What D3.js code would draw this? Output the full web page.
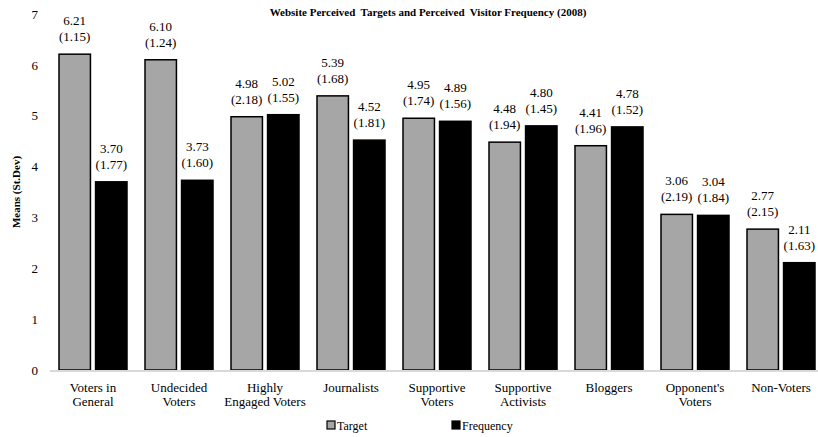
<!DOCTYPE html>
<html lang="en">
<head>
<meta charset="UTF-8">
<title>Website Perceived Targets and Perceived Visitor Frequency (2008)</title>
<style>
  body { margin: 0; background: #fff; }
  svg text { font-family: "Liberation Serif", "Times New Roman", Times, serif; }
  .tick text { font-size: 13px; fill: #000; }
  .lbl { font-size: 13px; fill: #000; }
</style>
</head>
<body>
<svg width="818" height="437"></svg>
<script src="https://d3js.org/d3.v7.min.js"></script>
<script>
var categories = [["Voters in", "General"], ["Undecided", "Voters"], ["Highly", "Engaged Voters"],
                  ["Journalists"], ["Supportive", "Voters"], ["Supportive", "Activists"],
                  ["Bloggers"], ["Opponent's", "Voters"], ["Non-Voters"]];
var seriesNames = ["Target", "Frequency"];
var targetMeans = [6.21, 6.10, 4.98, 5.39, 4.95, 4.48, 4.41, 3.06, 2.77];
var targetSd    = [1.15, 1.24, 2.18, 1.68, 1.74, 1.94, 1.96, 2.19, 2.15];
var freqMeans   = [3.70, 3.73, 5.02, 4.52, 4.89, 4.80, 4.78, 3.04, 2.11];
var freqSd      = [1.77, 1.60, 1.55, 1.81, 1.56, 1.45, 1.52, 1.84, 1.63];
var yTicks = [0, 1, 2, 3, 4, 5, 6, 7];

var svg = d3.select("svg"),
    margin = {left: 50, top: 14, bottom: 67};

var x0 = d3.scaleBand().domain(d3.range(categories.length)).range([50, 824]),
    x1 = d3.scaleBand().domain(seriesNames).range([9, 77]).paddingInner(0.14),
    y = d3.scaleLinear().domain([0, 7]).range([370, 14]);

var fills = {Target: "#a6a6a6", Frequency: "#000"};

var data = categories.map(function (c, i) {
  return {i: i, vals: [
    {s: "Target", m: targetMeans[i], sd: targetSd[i]},
    {s: "Frequency", m: freqMeans[i], sd: freqSd[i]}
  ]};
});

// y axis
var yAxis = svg.append("g")
    .attr("transform", "translate(" + margin.left + ",0)")
    .call(d3.axisLeft(y).tickValues(yTicks).tickFormat(d3.format("d")).tickSize(0).tickPadding(12));
yAxis.attr("font-family", null).attr("font-size", null);
yAxis.select(".domain").remove();

// bars
var groups = svg.selectAll(".grp").data(data).enter().append("g")
    .attr("class", "grp")
    .attr("transform", function (d) { return "translate(" + x0(d.i) + ",0)"; });

groups.selectAll("rect").data(function (d) { return d.vals; }).enter().append("rect")
    .attr("x", function (d) { return x1(d.s); })
    .attr("width", x1.bandwidth())
    .attr("y", function (d) { return y(d.m); })
    .attr("height", function (d) { return y(0) - y(d.m); })
    .attr("fill", function (d) { return fills[d.s]; })
    .attr("stroke", "#000")
    .attr("stroke-width", 1.5);

var vl = groups.selectAll(".v").data(function (d) { return d.vals; }).enter().append("text")
    .attr("class", "lbl v")
    .attr("text-anchor", "middle")
    .attr("x", function (d) { return x1(d.s) + x1.bandwidth() / 2; })
    .attr("y", function (d) { return y(d.m) - 29; })
    .text(function (d) { return d.m.toFixed(2); });
groups.selectAll(".sd").data(function (d) { return d.vals; }).enter().append("text")
    .attr("class", "lbl sd")
    .attr("text-anchor", "middle")
    .attr("x", function (d) { return x1(d.s) + x1.bandwidth() / 2; })
    .attr("y", function (d) { return y(d.m) - 13; })
    .text(function (d) { return "(" + d.sd.toFixed(2) + ")"; });

// x axis
svg.append("line")
    .attr("x1", 50).attr("x2", 818)
    .attr("y1", y(0) + 1).attr("y2", y(0) + 1)
    .attr("stroke", "#d9d9d9").attr("stroke-width", 2);

categories.forEach(function (lines, i) {
  lines.forEach(function (t, j) {
    svg.append("text")
        .attr("class", "lbl")
        .attr("text-anchor", "middle")
        .attr("x", x0(i) + x0.bandwidth() / 2)
        .attr("y", 392 + j * 13.5)
        .text(t);
  });
});

// title + y label
svg.append("text")
    .attr("x", 428).attr("y", 16)
    .attr("text-anchor", "middle")
    .style("font-size", "11px").style("font-weight", "bold")
    .text("Website Perceived\u00a0 Targets and Perceived\u00a0 Visitor Frequency (2008)");

svg.append("text")
    .attr("transform", "translate(20,192) rotate(-90)")
    .attr("text-anchor", "middle")
    .style("font-size", "11px").style("font-weight", "bold")
    .text("Means (St.Dev)");

// legend
var legX = {Target: 327, Frequency: 452};
var leg = svg.selectAll(".leg").data(seriesNames).enter().append("g")
    .attr("transform", function (d) { return "translate(" + legX[d] + ",421)"; });
leg.append("rect")
    .attr("width", 8).attr("height", 8)
    .attr("fill", function (d) { return fills[d]; })
    .attr("stroke", "#000").attr("stroke-width", 1.2);
leg.append("text")
    .attr("class", "lbl")
    .attr("x", 10).attr("y", 9)
    .style("font-size", "12px")
    .text(function (d) { return d; });
</script>
</body>
</html>
